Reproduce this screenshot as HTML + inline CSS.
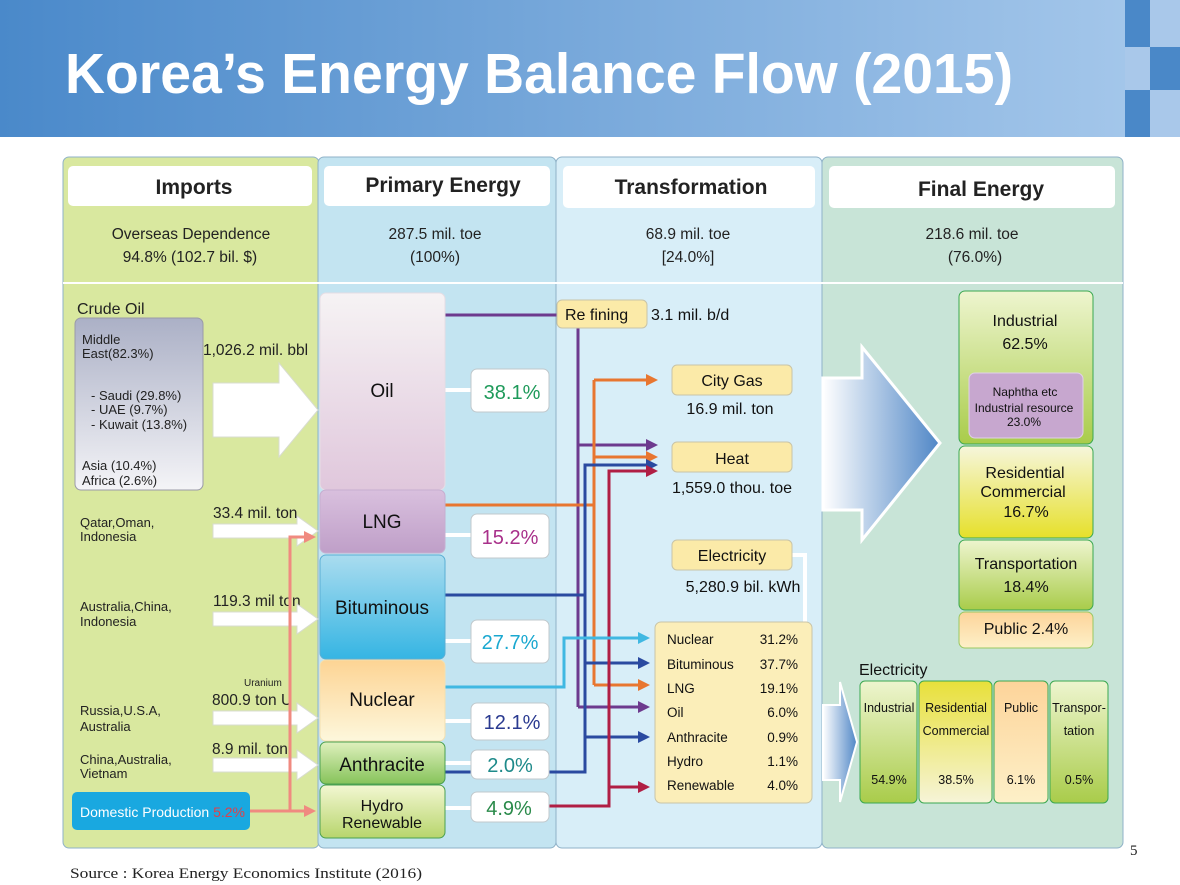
<!DOCTYPE html>
<html><head><meta charset="utf-8"><style>html,body{margin:0;padding:0;background:#fff}svg{display:block}text{font-family:"Liberation Sans","DejaVu Sans",sans-serif}</style></head><body>
<svg width="1180" height="885" viewBox="0 0 1180 885" xmlns="http://www.w3.org/2000/svg">
<defs>
<linearGradient id="hd" x1="0" x2="1"><stop offset="0" stop-color="#4a89ca"/><stop offset="1" stop-color="#a3c6ea"/></linearGradient>
<linearGradient id="grey" x1="0" y1="0" x2="0" y2="1"><stop offset="0" stop-color="#abb0c6"/><stop offset="1" stop-color="#f4f4f7"/></linearGradient>
<linearGradient id="oil" x1="0" y1="0" x2="0" y2="1"><stop offset="0" stop-color="#f6f3f4"/><stop offset="1" stop-color="#e0c7dc"/></linearGradient>
<linearGradient id="lng" x1="0" y1="0" x2="0" y2="1"><stop offset="0" stop-color="#d9c0de"/><stop offset="1" stop-color="#bf9fc8"/></linearGradient>
<linearGradient id="bit" x1="0" y1="0" x2="0" y2="1"><stop offset="0" stop-color="#aadcef"/><stop offset="1" stop-color="#35b5e3"/></linearGradient>
<linearGradient id="nuc" x1="0" y1="0" x2="0" y2="1"><stop offset="0" stop-color="#fdd494"/><stop offset="1" stop-color="#fdf7dc"/></linearGradient>
<linearGradient id="ant" x1="0" y1="0" x2="0" y2="1"><stop offset="0" stop-color="#dff0bd"/><stop offset="1" stop-color="#86c35a"/></linearGradient>
<linearGradient id="hyd" x1="0" y1="0" x2="0" y2="1"><stop offset="0" stop-color="#f3f7d2"/><stop offset="1" stop-color="#b7d56c"/></linearGradient>
<linearGradient id="gr" x1="0" y1="0" x2="0" y2="1"><stop offset="0" stop-color="#eef5cf"/><stop offset="1" stop-color="#a9cc4a"/></linearGradient>
<linearGradient id="ye" x1="0" y1="0" x2="0" y2="1"><stop offset="0" stop-color="#f6f6dc"/><stop offset="1" stop-color="#e6e02a"/></linearGradient>
<linearGradient id="ye2" x1="0" y1="0" x2="0" y2="1"><stop offset="0" stop-color="#e8e03a"/><stop offset="1" stop-color="#f6f4d8"/></linearGradient>
<linearGradient id="pub" x1="0" y1="0" x2="0" y2="1"><stop offset="0" stop-color="#fdd49a"/><stop offset="1" stop-color="#fdf0c8"/></linearGradient>
<linearGradient id="arr" x1="0" x2="1"><stop offset="0" stop-color="#ffffff"/><stop offset="1" stop-color="#4f86c6"/></linearGradient>
<marker id="m" markerWidth="4" markerHeight="4" refX="3" refY="2" orient="auto" markerUnits="strokeWidth"><path d="M0,0 L4,2 L0,4 z" fill="context-stroke"/></marker>
</defs>
<!-- header -->
<rect x="0" y="0" width="1125" height="137" fill="url(#hd)"/>
<rect x="1125" y="0" width="25" height="47" fill="#4a88c8"/><rect x="1125" y="47" width="25" height="43" fill="#a9c8ea"/><rect x="1125" y="90" width="25" height="47" fill="#4a88c8"/>
<rect x="1150" y="0" width="30" height="47" fill="#a9c8ea"/><rect x="1150" y="47" width="30" height="43" fill="#4a88c8"/><rect x="1150" y="90" width="30" height="47" fill="#a9c8ea"/>
<text x="65" y="93" font-size="57" font-weight="bold" fill="#fff" textLength="948" lengthAdjust="spacingAndGlyphs">Korea’s Energy Balance Flow (2015)</text>
<!-- panels -->
<rect x="63" y="157" width="256" height="691" rx="6" fill="#d9e89f" stroke="#8fb2c8"/>
<rect x="318" y="157" width="238" height="691" rx="6" fill="#c3e4f1" stroke="#8fb2c8"/>
<rect x="556" y="157" width="266" height="691" rx="6" fill="#d8eef8" stroke="#8fb2c8"/>
<rect x="822" y="157" width="301" height="691" rx="6" fill="#c8e4d7" stroke="#8fb2c8"/>
<rect x="63" y="282" width="1060" height="2" fill="#fff"/>
<g fill="#fff"><rect x="68" y="166" width="244" height="40" rx="5"/><rect x="324" y="166" width="226" height="40" rx="5"/><rect x="563" y="166" width="252" height="42" rx="5"/><rect x="829" y="166" width="286" height="42" rx="5"/></g>
<g font-weight="bold" font-size="21" text-anchor="middle" fill="#222"><text x="194" y="194">Imports</text><text x="443" y="192">Primary Energy</text><text x="691" y="194">Transformation</text><text x="981" y="196">Final Energy</text></g>
<g font-size="15.5" text-anchor="middle" fill="#222">
<text x="191" y="239">Overseas Dependence</text><text x="190" y="262">94.8% (102.7 bil. $)</text>
<text x="435" y="239">287.5 mil. toe</text><text x="435" y="262">(100%)</text>
<text x="688" y="239">68.9 mil. toe</text><text x="688" y="262">[24.0%]</text>
<text x="972" y="239">218.6 mil. toe</text><text x="975" y="262">(76.0%)</text></g>
<!-- imports -->
<text x="77" y="314" font-size="16" fill="#222">Crude Oil</text>
<rect x="75" y="318" width="128" height="172" rx="6" fill="url(#grey)" stroke="#9a9aa8"/>
<g font-size="13" fill="#222"><text x="82" y="344">Middle</text><text x="82" y="358">East(82.3%)</text>
<text x="91" y="400">- Saudi (29.8%)</text><text x="91" y="414">- UAE (9.7%)</text><text x="91" y="429">- Kuwait (13.8%)</text>
<text x="82" y="470">Asia (10.4%)</text><text x="82" y="485">Africa (2.6%)</text>
<text x="80" y="527">Qatar,Oman,</text><text x="80" y="541">Indonesia</text>
<text x="80" y="611">Australia,China,</text><text x="80" y="626">Indonesia</text>
<text x="80" y="715">Russia,U.S.A,</text><text x="80" y="731">Australia</text>
<text x="80" y="764">China,Australia,</text><text x="80" y="778">Vietnam</text></g>
<g font-size="15.5" fill="#222"><text x="203" y="355">1,026.2 mil. bbl</text><text x="213" y="518">33.4 mil. ton</text><text x="213" y="606">119.3 mil ton</text><text x="212" y="705">800.9 ton U</text><text x="212" y="754">8.9 mil. ton</text></g>
<text x="244" y="686" font-size="10" fill="#222">Uranium</text>
<path d="M213,383 H279 V363 L318,410 L279,457 V437 H213 z" fill="#fff" stroke="#d8dcd0"/>
<g fill="#fff" stroke="#d8dcd0"><path d="M213,524 H297 V516 L318,531 L297,546 V538 H213z"/><path d="M213,612 H297 V604 L318,619 L297,634 V626 H213z"/><path d="M213,711 H297 V703 L318,718 L297,733 V725 H213z"/><path d="M213,758 H297 V750 L318,765 L297,780 V772 H213z"/></g>
<rect x="72" y="792" width="178" height="38" rx="5" fill="#19a8e0"/>
<text x="80" y="817" font-size="14" fill="#fff">Domestic Production <tspan fill="#e0404a">5.2%</tspan></text>
<g stroke="#f08a80" stroke-width="3" fill="none"><path d="M250,811 H313" marker-end="url(#m)"/><path d="M290,811 V537 H313" marker-end="url(#m)"/></g>
<!-- colored lines -->
<g fill="none" stroke-width="3">
<path d="M445,315 H557" stroke="#6d3a8e"/>
<path d="M578,328 V707" stroke="#6d3a8e"/>
<path d="M578,445 H655" stroke="#6d3a8e" marker-end="url(#m)"/>
<path d="M578,707 H647" stroke="#6d3a8e" marker-end="url(#m)"/>
<path d="M445,505 H594" stroke="#e87630"/>
<path d="M594,380 V685" stroke="#e87630"/>
<path d="M594,380 H655" stroke="#e87630" marker-end="url(#m)"/>
<path d="M594,457 H655" stroke="#e87630" marker-end="url(#m)"/>
<path d="M594,685 H647" stroke="#e87630" marker-end="url(#m)"/>
<path d="M445,595 H585" stroke="#2a4aa0"/>
<path d="M445,772 H585 V465 H655" stroke="#2a4aa0" marker-end="url(#m)"/>
<path d="M585,663 H647" stroke="#2a4aa0" marker-end="url(#m)"/>
<path d="M585,737 H647" stroke="#2a4aa0" marker-end="url(#m)"/>
<path d="M549,806 H609 V471 H655" stroke="#b01e44" marker-end="url(#m)"/>
<path d="M609,787 H647" stroke="#b01e44" marker-end="url(#m)"/>
<path d="M445,687 H564 V638 H647" stroke="#40b8e2" marker-end="url(#m)"/>
</g>
<!-- white connectors primary -->
<g stroke="#fff" stroke-width="4"><path d="M445,390 H471"/><path d="M445,535 H471"/><path d="M445,641 H471"/><path d="M445,721 H471"/><path d="M445,763 H471"/><path d="M445,808 H471"/><path d="M792,555 H805 V622" fill="none"/></g>
<!-- primary boxes -->
<g stroke-width="1">
<rect x="320" y="293" width="125" height="197" rx="6" fill="url(#oil)" stroke="#e6dde4"/>
<rect x="320" y="490" width="125" height="63" rx="6" fill="url(#lng)" stroke="#c6aed0"/>
<rect x="320" y="555" width="125" height="104" rx="6" fill="url(#bit)" stroke="#5aaed4"/>
<rect x="320" y="660" width="125" height="81" rx="6" fill="url(#nuc)" stroke="#f4e0b0"/>
<rect x="320" y="742" width="125" height="42" rx="6" fill="url(#ant)" stroke="#4aa050"/>
<rect x="320" y="785" width="125" height="53" rx="6" fill="url(#hyd)" stroke="#4aa050"/></g>
<g font-size="19" text-anchor="middle" fill="#111"><text x="382" y="397">Oil</text><text x="382" y="528">LNG</text><text x="382" y="614">Bituminous</text><text x="382" y="706">Nuclear</text><text x="382" y="771">Anthracite</text></g>
<g font-size="16" text-anchor="middle" fill="#111"><text x="382" y="811">Hydro</text><text x="382" y="828">Renewable</text></g>
<g fill="#fff" stroke="#c0c8cc"><rect x="471" y="369" width="78" height="43" rx="6"/><rect x="471" y="514" width="78" height="44" rx="6"/><rect x="471" y="620" width="78" height="43" rx="6"/><rect x="471" y="703" width="78" height="37" rx="6"/><rect x="471" y="750" width="78" height="29" rx="6"/><rect x="471" y="792" width="78" height="30" rx="6"/></g>
<g font-size="20" text-anchor="middle"><text x="512" y="399" fill="#1e9a5a">38.1%</text><text x="510" y="544" fill="#a8308a">15.2%</text><text x="510" y="649" fill="#1aa8d0">27.7%</text><text x="512" y="729" fill="#2a3a90">12.1%</text><text x="510" y="772" fill="#1e8a8a">2.0%</text><text x="509" y="815" fill="#2a8a4a">4.9%</text></g>
<!-- transformation -->
<g fill="#fbeaa8" stroke="#c8c4a8"><rect x="557" y="300" width="90" height="28" rx="5"/><rect x="672" y="365" width="120" height="30" rx="5"/><rect x="672" y="442" width="120" height="30" rx="5"/><rect x="672" y="540" width="120" height="30" rx="5"/></g>
<rect x="655" y="622" width="157" height="181" rx="6" fill="#fbeeb9" stroke="#c8c4a8"/>
<g font-size="16" fill="#111"><text x="565" y="320">Re    fining</text><text x="651" y="320">3.1 mil. b/d</text>
<text x="732" y="386" text-anchor="middle">City Gas</text><text x="730" y="414" text-anchor="middle">16.9 mil. ton</text>
<text x="732" y="464" text-anchor="middle">Heat</text><text x="732" y="493" text-anchor="middle">1,559.0 thou. toe</text>
<text x="732" y="561" text-anchor="middle">Electricity</text><text x="743" y="592" text-anchor="middle">5,280.9 bil. kWh</text></g>
<g font-size="13.5" fill="#111"><text x="667" y="644">Nuclear</text><text x="667" y="669">Bituminous</text><text x="667" y="693">LNG</text><text x="667" y="717">Oil</text><text x="667" y="742">Anthracite</text><text x="667" y="766">Hydro</text><text x="667" y="790">Renewable</text></g>
<g font-size="13.5" fill="#111" text-anchor="end"><text x="798" y="644">31.2%</text><text x="798" y="669">37.7%</text><text x="798" y="693">19.1%</text><text x="798" y="717">6.0%</text><text x="798" y="742">0.9%</text><text x="798" y="766">1.1%</text><text x="798" y="790">4.0%</text></g>
<!-- final -->
<path d="M823,378 H862 V347 L940,443 L862,540 V510 H823 z" fill="url(#arr)" stroke="#fff" stroke-width="3"/>
<path d="M823,705 H840 V682 L857,742 L840,802 V780 H823 z" fill="url(#arr)" stroke="#fff" stroke-width="2"/>
<g stroke="#3aa850"><rect x="959" y="291" width="134" height="153" rx="6" fill="url(#gr)"/><rect x="959" y="446" width="134" height="92" rx="6" fill="url(#ye)"/><rect x="959" y="540" width="134" height="70" rx="6" fill="url(#gr)"/><rect x="959" y="612" width="134" height="36" rx="6" fill="url(#pub)" stroke="#9ac860"/></g>
<rect x="969" y="373" width="114" height="65" rx="6" fill="#c7a7cf" stroke="#e0d0e8"/>
<g font-size="16" text-anchor="middle" fill="#111"><text x="1025" y="326">Industrial</text><text x="1025" y="349">62.5%</text>
<text x="1025" y="478">Residential</text><text x="1023" y="497">Commercial</text><text x="1026" y="517">16.7%</text>
<text x="1026" y="569">Transportation</text><text x="1026" y="592">18.4%</text><text x="1026" y="634">Public 2.4%</text></g>
<g font-size="12" text-anchor="middle" fill="#111"><text x="1025" y="396">Naphtha etc</text><text x="1024" y="412">Industrial resource</text><text x="1024" y="426">23.0%</text></g>
<text x="859" y="675" font-size="16" fill="#111">Electricity</text>
<g stroke="#3aa850"><rect x="860" y="681" width="57" height="122" rx="5" fill="url(#gr)"/><rect x="919" y="681" width="73" height="122" rx="5" fill="url(#ye2)"/><rect x="994" y="681" width="54" height="122" rx="5" fill="url(#pub)"/><rect x="1050" y="681" width="58" height="122" rx="5" fill="url(#gr)"/></g>
<g font-size="12.5" text-anchor="middle" fill="#111"><text x="889" y="712">Industrial</text><text x="956" y="712">Residential</text><text x="956" y="735">Commercial</text><text x="1021" y="712">Public</text><text x="1079" y="712">Transpor-</text><text x="1079" y="735">tation</text>
<text x="889" y="784">54.9%</text><text x="956" y="784">38.5%</text><text x="1021" y="784">6.1%</text><text x="1079" y="784">0.5%</text></g>
<text x="1130" y="855" font-size="15" fill="#222" style="font-family:'Liberation Serif',serif">5</text>
<text x="70" y="878" font-size="15" fill="#222" style="font-family:'Liberation Serif',serif" textLength="352" lengthAdjust="spacingAndGlyphs">Source : Korea Energy Economics Institute  (2016)</text>
</svg>
</body></html>
